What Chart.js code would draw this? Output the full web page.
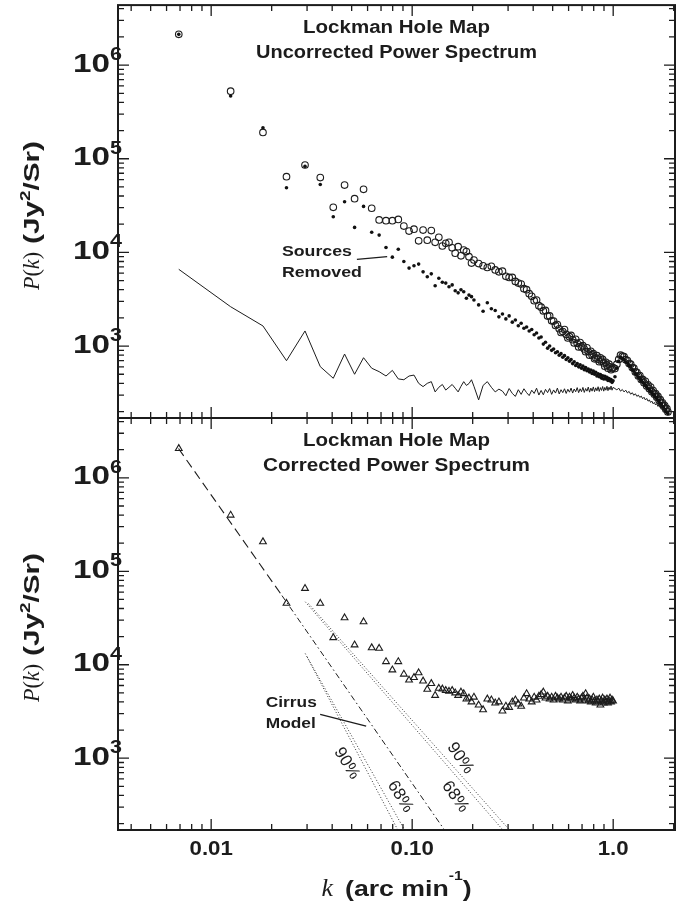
<!DOCTYPE html>
<html><head><meta charset="utf-8">
<script src="https://cdn.jsdelivr.net/npm/chart.js@4/dist/chart.umd.min.js"></script>
<style>
html,body{margin:0;padding:0;background:#fff;}
#wrap{position:relative;width:693px;height:901px;overflow:hidden;}
canvas{position:absolute;left:0;top:0;}
</style></head><body>
<div id="wrap"><canvas id="cTop" width="693" height="901"></canvas><canvas id="cBot" width="693" height="901"></canvas></div>
<script>
// ---------------- data ----------------
const kGrid = [
0.0069,0.0125,0.0181,0.0237,0.0293,0.0349,0.0405,0.0461,0.0517,0.0573,
0.0629,0.0685,0.0741,0.0797,0.0853,0.0909,0.0965,0.1021,0.1077,0.1133,
0.1189,0.1245,0.1301,0.1357,0.1413,0.1469,0.1525,0.1581,0.1637,0.1693,
0.1749,0.1805,0.1861,0.1917,0.1973,0.2029,
0.2141,0.2253,0.2365,0.2477,0.2589,0.2701,0.2813,0.2925,0.3037,0.3149,
0.3261,0.3373,0.3485,0.3597,0.3709,0.3821,0.3933,0.4045,0.4157,0.4269,
0.4381,0.4493,0.4605,0.4717,0.4829,0.4941,0.5053,0.5165,0.5277,0.5389,
0.5501,0.5613,0.5725,0.5837,0.5949,0.6061,0.6173,0.6285,0.6397,0.6509,
0.6621,0.6733,0.6845,0.6957,0.7069,0.7181,0.7293,0.7405,0.7517,0.7629,
0.7741,0.7853,0.7965,0.8077,0.8189,0.8301,0.8413,0.8525,0.8637,0.8749,
0.8861,0.8973,0.9085,0.9197,0.9309,0.9421,0.9533,0.9645,0.9757,0.9869,
0.9981,
1.0205,1.0429,1.0653,1.0877,1.1101,1.1325,1.1549,1.1773,1.1997,1.2221,
1.2445,1.2669,1.2893,1.3117,1.3341,1.3565,1.3789,1.4013,1.4237,1.4461,
1.4685,1.4909,1.5133,1.5357,1.5581,1.5805,1.6029,1.6253,1.6477,1.6701,
1.6925,1.7149,1.7373,1.7597,1.7821,1.8045,1.8269,1.8493,1.8717
];
// open circles: uncorrected power spectrum
const pUncorrected = [
2130000,527000,191000,64300,85700,63000,30300,52400,37500,47100,
29600,22200,21800,21800,22500,19100,16900,17700,13300,17300,
13500,17100,12800,14500,11700,12500,12800,11200,9800,11500,
9200,10600,10200,9000,7700,8300,
7600,7200,6900,7100,6500,6200,6300,5560,5400,5400,
4900,4700,4600,4100,4000,3630,3400,3050,3100,2700,
2600,2370,2400,2090,2100,1860,1850,1660,1700,1530,
1400,1430,1500,1330,1220,1260,1300,1170,1080,1180,
1070,980,1090,980,1010,930,870,960,870,800,
880,805,830,730,750,790,725,680,750,690,
720,660,610,670,625,580,640,600,560,575,
590,
575,640,720,800,780,770,715,700,650,640,
590,580,530,525,480,485,440,440,405,420,
375,385,350,365,325,335,305,310,285,290,
262,268,245,248,228,232,212,215,198
];
// filled dots: sources removed
const pSourcesRemoved = [
2130000,467000,214000,49000,83000,53000,24000,34700,18500,31000,
16400,15300,11300,8900,10800,8000,6800,7200,7500,6200,
5500,5900,4400,5300,4800,4700,4300,4500,3900,3700,
4000,3800,3240,3500,3370,3100,
2750,2350,2900,2500,2400,2050,2200,1950,2100,1800,
1900,1650,1750,1550,1600,1450,1500,1320,1380,1220,
1250,1050,1100,950,1000,900,930,850,870,800,
830,760,790,720,750,690,720,650,680,620,
650,600,630,580,610,560,590,545,570,530,
555,510,540,500,525,480,505,470,495,455,
480,445,475,445,465,430,450,425,440,410,
425,
470,580,690,760,740,720,680,660,620,600,
560,545,510,495,465,450,430,410,395,380,
365,350,340,325,320,305,300,285,280,265,
260,245,240,225,220,210,205,195,190
];
// solid line: noise level
const pNoise = [
6600,2630,1640,698,1450,603,453,822,500,751,
580,533,479,550,446,437,479,490,400,369,
400,417,324,363,389,339,363,389,355,324,
372,417,380,398,437,372,
266,380,417,363,324,347,330,295,352,312,
290,342,305,350,318,296,338,312,355,300,
336,302,345,318,352,305,340,315,356,308,
342,318,350,312,346,322,356,315,348,325,
360,318,350,326,362,320,352,330,365,322,
356,330,366,326,358,333,368,328,360,336,
370,330,362,338,372,334,364,342,374,338,
362,
352,340,356,330,344,324,338,316,328,306,
318,298,310,290,300,283,292,274,284,266,
276,258,266,250,258,242,250,235,242,227,
234,219,226,212,218,205,211,200,198
];
// triangles: corrected power spectrum
const pCorrected = [
2060000,399000,207000,45400,65600,45400,19500,31800,16300,28800,
15200,15000,10800,8800,10800,7940,6850,7300,8200,6700,
5460,6300,4700,5600,5500,5300,5200,5300,5000,4700,
5100,4900,4300,4400,4000,4500,
3700,3300,4300,4200,3900,4000,3200,3600,3500,4000,
4200,3800,3600,4400,4900,4300,4000,4500,4200,4600,
4800,5100,4400,4600,4300,4500,4200,4600,4400,4300,
4500,4200,4400,4600,4100,4500,4300,4700,4400,4200,
4500,4300,4100,4400,4600,4200,4900,4400,4100,4300,
4000,4200,4500,4100,3900,4200,4000,4300,3700,4100,
4400,3900,4200,4000,4300,3900,4100,4400,4000,4200,
4100
];
// cirrus model (dashed, then dash-dot) and confidence bounds (dotted)
const cirrusK = [0.00688, 0.0225, 0.1447];
const cirrusP = [2060000, 55000, 171];
const upper90K = [0.03048, 0.3048], upper90P = [45200, 171];
const upper68K = [0.02938, 0.2824], upper68P = [47200, 171];
const lower90K = [0.02938, 0.0848], lower90P = [13200, 171];
const lower68K = [0.03006, 0.0916], lower68P = [12100, 171];
// axes
const xTickValues = [0.01, 0.1, 1];
const xTickLabels = ['0.01', '0.10', '1.0'];
const yTickExponents = [3, 4, 5, 6];
const X_MIN = 0.00344, X_MAX = 2.03, Y_MIN = 170.6, Y_MAX = 4370000;

// ---------------- helpers ----------------
const INK = '#1c1c1c';
const SANS = '"Liberation Sans", Arial, Helvetica, sans-serif';
const SERIF = '"Liberation Serif", "Times New Roman", serif';
const pts = (ks, ps) => ks.map((k, i) => ({x: k, y: ps[i]})).filter(p => p.y !== undefined);

function drawRuns(ctx, runs, x, y, targetW, align) {
  let W = 0;
  for (const r of runs) { ctx.font = r.font; r.w = ctx.measureText(r.t).width; W += r.w; }
  const s = targetW ? targetW / W : 1;
  ctx.save();
  ctx.translate(x, y);
  ctx.scale(s, 1);
  let cx = align === 'center' ? -W / 2 : (align === 'right' ? -W : 0);
  ctx.textAlign = 'left'; ctx.textBaseline = 'alphabetic';
  for (const r of runs) { ctx.font = r.font; ctx.fillText(r.t, cx, r.dy || 0); cx += r.w; }
  ctx.restore();
  return W * s;
}

const panelPlugin = {
  id: 'panel',
  afterDraw(chart, args, o) {
    const ctx = chart.ctx, a = chart.chartArea, xs = chart.scales.x, ys = chart.scales.y;
    ctx.save();
    ctx.strokeStyle = INK; ctx.fillStyle = INK;
    // tick marks, all four sides, pointing inward
    ctx.lineWidth = 1.3;
    ctx.beginPath();
    for (let e = -3; e <= 0; e++) for (let m = 1; m <= 9; m++) {
      const v = m * Math.pow(10, e);
      if (v <= xs.min || v >= xs.max) continue;
      const px = xs.getPixelForValue(v), L = m === 1 ? 11 : 6;
      ctx.moveTo(px, a.bottom); ctx.lineTo(px, a.bottom - L);
      ctx.moveTo(px, a.top); ctx.lineTo(px, a.top + L);
    }
    for (let e = 2; e <= 6; e++) for (let m = 1; m <= 9; m++) {
      const v = m * Math.pow(10, e);
      if (v <= ys.min || v >= ys.max) continue;
      const py = ys.getPixelForValue(v), L = m === 1 ? 11 : 6;
      ctx.moveTo(a.left, py); ctx.lineTo(a.left + L, py);
      ctx.moveTo(a.right, py); ctx.lineTo(a.right - L, py);
    }
    ctx.stroke();
    ctx.lineWidth = 2;
    ctx.strokeRect(a.left, a.top, a.right - a.left, a.bottom - a.top);

    // y tick labels 10^n
    for (const e of yTickExponents) {
      const py = ys.getPixelForValue(Math.pow(10, e));
      drawRuns(ctx, [{t: '10', font: 'bold 25px ' + SANS}], a.left - 8, py + 6.5, 37, 'right');
      drawRuns(ctx, [{t: String(e), font: 'bold 18px ' + SANS}], a.left - 8, py - 5, 12, 'left');
    }
    // y axis title, rotated
    ctx.save();
    ctx.translate(a.left - 86.3, a.bottom - 128);
    ctx.rotate(-Math.PI / 2);
    const wPk = drawRuns(ctx, [
      {t: 'P', font: 'italic 24px ' + SERIF},
      {t: '(', font: '24px ' + SERIF},
      {t: 'k', font: 'italic 24px ' + SERIF},
      {t: ')', font: '24px ' + SERIF}
    ], 0, 7, 38, 'left');
    drawRuns(ctx, [
      {t: '(Jy', font: 'bold 22px ' + SANS},
      {t: '2', font: 'bold 14px ' + SANS, dy: -9},
      {t: '/Sr)', font: 'bold 22px ' + SANS}
    ], wPk + 8, 7, 103, 'left');
    ctx.restore();

    // titles
    const cx = (a.left + a.right) / 2;
    o.titles.forEach((t, i) => {
      drawRuns(ctx, [{t: t.text, font: 'bold 18px ' + SANS}], cx, a.top + 28 + 25 * i, t.width, 'center');
    });
    // annotation texts (data coordinates)
    for (const t of (o.texts || [])) {
      drawRuns(ctx, [{t: t.text, font: 'bold 15px ' + SANS}],
        xs.getPixelForValue(t.k), ys.getPixelForValue(t.p) + 5.5, t.width, 'left');
    }
    // leader lines
    ctx.lineWidth = 1.3;
    for (const l of (o.leaders || [])) {
      ctx.beginPath();
      ctx.moveTo(xs.getPixelForValue(l.k[0]), ys.getPixelForValue(l.p[0]));
      ctx.lineTo(xs.getPixelForValue(l.k[1]), ys.getPixelForValue(l.p[1]));
      ctx.stroke();
    }
    // rotated percentage labels
    for (const r of (o.rotated || [])) {
      ctx.save();
      ctx.translate(xs.getPixelForValue(r.k), ys.getPixelForValue(r.p));
      ctx.rotate(r.angle * Math.PI / 180);
      ctx.font = '17px ' + SANS;
      ctx.textAlign = 'center'; ctx.textBaseline = 'middle';
      ctx.fillText(r.text, 0, 0);
      ctx.restore();
    }
    // x tick labels and title (bottom panel only)
    if (o.xLabels) {
      xTickValues.forEach((v, i) => {
        ctx.font = 'bold 21px ' + SANS;
        const w = ctx.measureText(xTickLabels[i]).width * 1.06;
        drawRuns(ctx, [{t: xTickLabels[i], font: 'bold 21px ' + SANS}], xs.getPixelForValue(v), a.bottom + 25, w, 'center');
      });
      const x0 = cx - 75;
      drawRuns(ctx, [{t: 'k', font: 'italic 26px ' + SERIF}], x0, a.bottom + 66, null, 'left');
      drawRuns(ctx, [
        {t: '(arc min', font: 'bold 22px ' + SANS},
        {t: '-1', font: 'bold 13px ' + SANS, dy: -16},
        {t: ')', font: 'bold 22px ' + SANS}
      ], x0 + 23.5, a.bottom + 66, 126.7, 'left');
    }
    ctx.restore();
  }
};

function scales() {
  return {
    x: {type: 'logarithmic', min: X_MIN, max: X_MAX, display: false},
    y: {type: 'logarithmic', min: Y_MIN, max: Y_MAX, display: false}
  };
}
const common = {
  responsive: false, animation: false, events: [],
  plugins: {legend: {display: false}, tooltip: {enabled: false}}
};

// ---------------- top panel ----------------
new Chart(document.getElementById('cTop'), {
  type: 'scatter',
  data: {datasets: [
    {data: pts(kGrid, pNoise), showLine: true, pointRadius: 0, borderColor: INK, borderWidth: 1},
    {data: pts(kGrid, pSourcesRemoved), pointRadius: 1.8, pointBorderWidth: 0, backgroundColor: '#111', borderColor: '#111'},
    {data: pts(kGrid, pUncorrected), pointRadius: 3.3, pointBorderWidth: 1.1, backgroundColor: 'rgba(0,0,0,0)', borderColor: INK}
  ]},
  options: Object.assign({}, common, {
    layout: {padding: {left: 118, right: 18, top: 5, bottom: 483}},
    scales: scales(),
    plugins: Object.assign({}, common.plugins, {panel: {
      titles: [{text: 'Lockman Hole Map', width: 187}, {text: 'Uncorrected Power Spectrum', width: 281}],
      texts: [{text: 'Sources', k: 0.02248, p: 10600, width: 70}, {text: 'Removed', k: 0.02248, p: 6200, width: 80}],
      leaders: [{k: [0.0531, 0.0751], p: [8430, 9000]}]
    }})
  }),
  plugins: [panelPlugin]
});

// ---------------- bottom panel ----------------
const dotted = {showLine: true, pointRadius: 0, borderColor: '#333', borderWidth: 1, borderDash: [1, 2]};
new Chart(document.getElementById('cBot'), {
  type: 'scatter',
  data: {datasets: [
    {data: pts(cirrusK.slice(0, 2), cirrusP.slice(0, 2)), showLine: true, pointRadius: 0, borderColor: INK, borderWidth: 1.1, borderDash: [9, 5]},
    {data: pts(cirrusK.slice(1), cirrusP.slice(1)), showLine: true, pointRadius: 0, borderColor: INK, borderWidth: 1, borderDash: [6, 3, 1.5, 3]},
    Object.assign({data: pts(upper90K, upper90P)}, dotted),
    Object.assign({data: pts(upper68K, upper68P)}, dotted),
    Object.assign({data: pts(lower90K, lower90P)}, dotted),
    Object.assign({data: pts(lower68K, lower68P)}, dotted),
    {data: pts(kGrid, pCorrected), pointStyle: 'triangle', pointRadius: 3.9, pointBorderWidth: 1.1, backgroundColor: 'rgba(0,0,0,0)', borderColor: INK}
  ]},
  options: Object.assign({}, common, {
    layout: {padding: {left: 118, right: 18, top: 418, bottom: 71}},
    scales: scales(),
    plugins: Object.assign({}, common.plugins, {panel: {
      titles: [{text: 'Lockman Hole Map', width: 187}, {text: 'Corrected Power Spectrum', width: 267}],
      texts: [{text: 'Cirrus', k: 0.0187, p: 4020, width: 51}, {text: 'Model', k: 0.0187, p: 2400, width: 50}],
      leaders: [{k: [0.03485, 0.05902], p: [2940, 2210]}],
      rotated: [
        {text: '90%', k: 0.0473, p: 881, angle: 58},
        {text: '68%', k: 0.0871, p: 387, angle: 58},
        {text: '90%', k: 0.1734, p: 997, angle: 55},
        {text: '68%', k: 0.1637, p: 387, angle: 55}
      ],
      xLabels: true
    }})
  }),
  plugins: [panelPlugin]
});
</script></body></html>
